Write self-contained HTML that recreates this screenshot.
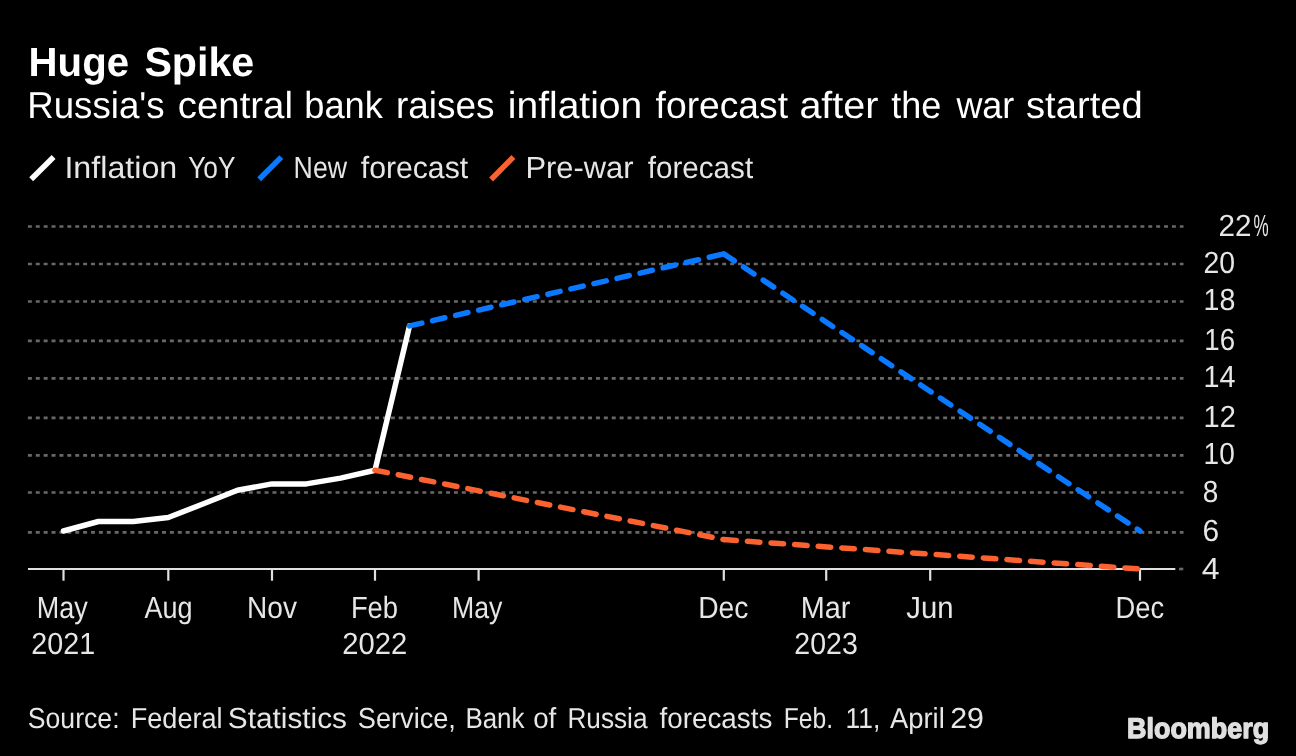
<!DOCTYPE html>
<html><head><meta charset="utf-8"><style>
html,body{margin:0;padding:0;background:#000;width:1296px;height:756px;overflow:hidden}
svg{display:block;will-change:transform}
text{font-family:"Liberation Sans",sans-serif;text-rendering:geometricPrecision}
</style></head><body>
<svg width="1296" height="756" viewBox="0 0 1296 756">
<rect width="1296" height="756" fill="#000"/>
<g fill="#fff">
<text id="title_0" x="28.60" y="76.00" font-size="40.8" textLength="100.43" lengthAdjust="spacingAndGlyphs" font-weight="bold">Huge</text><text id="title_1" x="144.40" y="76.00" font-size="40.8" textLength="109.90" lengthAdjust="spacingAndGlyphs" font-weight="bold">Spike</text>
<text id="subtitle_0" x="27.20" y="117.80" font-size="37.5" textLength="137.45" lengthAdjust="spacingAndGlyphs">Russia's</text><text id="subtitle_1" x="177.80" y="117.80" font-size="37.5" textLength="115.16" lengthAdjust="spacingAndGlyphs">central</text><text id="subtitle_2" x="304.20" y="117.80" font-size="37.5" textLength="78.73" lengthAdjust="spacingAndGlyphs">bank</text><text id="subtitle_3" x="396.00" y="117.80" font-size="37.5" textLength="98.47" lengthAdjust="spacingAndGlyphs">raises</text><text id="subtitle_4" x="507.80" y="117.80" font-size="37.5" textLength="134.47" lengthAdjust="spacingAndGlyphs">inflation</text><text id="subtitle_5" x="655.60" y="117.80" font-size="37.5" textLength="132.41" lengthAdjust="spacingAndGlyphs">forecast</text><text id="subtitle_6" x="799.40" y="117.80" font-size="37.5" textLength="79.09" lengthAdjust="spacingAndGlyphs">after</text><text id="subtitle_7" x="891.20" y="117.80" font-size="37.5" textLength="50.07" lengthAdjust="spacingAndGlyphs">the</text><text id="subtitle_8" x="956.40" y="117.80" font-size="37.5" textLength="57.92" lengthAdjust="spacingAndGlyphs">war</text><text id="subtitle_9" x="1026.00" y="117.80" font-size="37.5" textLength="116.72" lengthAdjust="spacingAndGlyphs">started</text>
</g>
<g fill="#e6e6e6">
<text id="leg1_0" x="64.40" y="177.80" font-size="30.6" textLength="112.89" lengthAdjust="spacingAndGlyphs">Inflation</text><text id="leg1_1" x="188.20" y="177.80" font-size="30.6" textLength="47.26" lengthAdjust="spacingAndGlyphs">YoY</text>
<text id="leg2_0" x="293.60" y="177.80" font-size="30.6" textLength="53.44" lengthAdjust="spacingAndGlyphs">New</text><text id="leg2_1" x="360.80" y="177.80" font-size="30.6" textLength="107.32" lengthAdjust="spacingAndGlyphs">forecast</text>
<text id="leg3_0" x="525.40" y="177.80" font-size="30.6" textLength="108.13" lengthAdjust="spacingAndGlyphs">Pre-war</text><text id="leg3_1" x="647.80" y="177.80" font-size="30.6" textLength="105.31" lengthAdjust="spacingAndGlyphs">forecast</text>
</g>
<g stroke-width="5.5">
<line x1="31.2" y1="179.2" x2="53.6" y2="157" stroke="#fff"/>
<line x1="259.2" y1="179.3" x2="281.3" y2="157.1" stroke="#0a78ff"/>
<line x1="491.1" y1="179.5" x2="513.4" y2="157" stroke="#fb6230"/>
</g>
<g stroke="#686868" stroke-width="2.6" stroke-dasharray="3.95 3.94"><line x1="27.9" y1="532.4" x2="1183.5" y2="532.4"/><line x1="27.9" y1="492.5" x2="1183.5" y2="492.5"/><line x1="27.9" y1="455.4" x2="1183.5" y2="455.4"/><line x1="27.9" y1="417.9" x2="1183.5" y2="417.9"/><line x1="27.9" y1="378.4" x2="1183.5" y2="378.4"/><line x1="27.9" y1="340.9" x2="1183.5" y2="340.9"/><line x1="27.9" y1="301.5" x2="1183.5" y2="301.5"/><line x1="27.9" y1="264" x2="1183.5" y2="264"/><line x1="27.9" y1="226.5" x2="1183.5" y2="226.5"/><line x1="1179" y1="569" x2="1183.3" y2="569" stroke-dasharray="none"/></g>
<line x1="28" y1="569" x2="1175.3" y2="569" stroke="#e0e0e0" stroke-width="2.2"/>
<g stroke="#e0e0e0" stroke-width="2.2"><line x1="63.50" y1="568" x2="63.50" y2="580.7"/><line x1="168.30" y1="568" x2="168.30" y2="580.7"/><line x1="272.00" y1="568" x2="272.00" y2="580.7"/><line x1="375.00" y1="568" x2="375.00" y2="580.7"/><line x1="478.60" y1="568" x2="478.60" y2="580.7"/><line x1="723.80" y1="568" x2="723.80" y2="580.7"/><line x1="826.20" y1="568" x2="826.20" y2="580.7"/><line x1="930.20" y1="568" x2="930.20" y2="580.7"/><line x1="1140.00" y1="568" x2="1140.00" y2="580.7"/></g>
<polyline points="63.50,531.00 98.43,521.50 133.37,521.50 168.30,517.50 202.87,504.00 237.43,490.30 272.00,483.90 306.33,483.90 340.67,478.10 375.00,470.20 409.53,325.90" fill="none" stroke="#fff" stroke-width="5.5" stroke-linejoin="round" stroke-linecap="round"/>
<g fill="none" stroke="#fb6230" stroke-width="5.5" stroke-dasharray="12.6 11.05" stroke-linecap="round"><path d="M375.00,470.20L723.80,539.60"/><path d="M723.80,539.60L1140.00,569.00"/></g>
<g fill="none" stroke="#0a78ff" stroke-width="5.5" stroke-dasharray="12.6 11.05" stroke-linecap="round"><path d="M409.53,325.90L723.80,253.90"/><path d="M723.80,253.90L1140.00,531.00"/></g>
<g fill="#e6e6e6"><text id="y4" x="1201.80" y="579.00" font-size="30.6" textLength="17.81" lengthAdjust="spacingAndGlyphs">4</text><text id="y6" x="1202.60" y="541.00" font-size="30.6" textLength="16.69" lengthAdjust="spacingAndGlyphs">6</text><text id="y8" x="1202.80" y="502.00" font-size="30.6" textLength="15.54" lengthAdjust="spacingAndGlyphs">8</text><text id="y10" x="1203.60" y="464.00" font-size="30.6" textLength="31.18" lengthAdjust="spacingAndGlyphs">10</text><text id="y12" x="1203.60" y="427.00" font-size="30.6" textLength="32.28" lengthAdjust="spacingAndGlyphs">12</text><text id="y14" x="1203.60" y="387.00" font-size="30.6" textLength="31.96" lengthAdjust="spacingAndGlyphs">14</text><text id="y16" x="1204.30" y="350.00" font-size="30.6" textLength="30.79" lengthAdjust="spacingAndGlyphs">16</text><text id="y18" x="1203.60" y="310.00" font-size="30.6" textLength="31.79" lengthAdjust="spacingAndGlyphs">18</text><text id="y20" x="1203.40" y="273.00" font-size="30.6" textLength="31.59" lengthAdjust="spacingAndGlyphs">20</text><text id="y22" x="1218.40" y="236.00" font-size="30.6" textLength="33.04" lengthAdjust="spacingAndGlyphs">22</text><text id="ypct" x="1253.40" y="236.00" font-size="30.6" textLength="15.16" lengthAdjust="spacingAndGlyphs">%</text><text id="May21" x="62.35" y="617.90" font-size="30.6" textLength="50.98" lengthAdjust="spacingAndGlyphs" text-anchor="middle">May</text><text id="y2021" x="63.20" y="653.70" font-size="30.6" textLength="63.87" lengthAdjust="spacingAndGlyphs" text-anchor="middle">2021</text><text id="Aug" x="168.53" y="617.90" font-size="30.6" textLength="48.00" lengthAdjust="spacingAndGlyphs" text-anchor="middle">Aug</text><text id="Nov" x="271.98" y="617.90" font-size="30.6" textLength="49.86" lengthAdjust="spacingAndGlyphs" text-anchor="middle">Nov</text><text id="Feb" x="374.48" y="617.90" font-size="30.6" textLength="47.12" lengthAdjust="spacingAndGlyphs" text-anchor="middle">Feb</text><text id="y2022" x="374.78" y="653.70" font-size="30.6" textLength="64.98" lengthAdjust="spacingAndGlyphs" text-anchor="middle">2022</text><text id="May22" x="477.21" y="617.90" font-size="30.6" textLength="50.42" lengthAdjust="spacingAndGlyphs" text-anchor="middle">May</text><text id="Dec22" x="723.29" y="617.90" font-size="30.6" textLength="50.19" lengthAdjust="spacingAndGlyphs" text-anchor="middle">Dec</text><text id="Mar" x="825.62" y="617.90" font-size="30.6" textLength="49.67" lengthAdjust="spacingAndGlyphs" text-anchor="middle">Mar</text><text id="y2023" x="826.07" y="653.70" font-size="30.6" textLength="63.57" lengthAdjust="spacingAndGlyphs" text-anchor="middle">2023</text><text id="Jun" x="929.90" y="617.90" font-size="30.6" textLength="47.22" lengthAdjust="spacingAndGlyphs" text-anchor="middle">Jun</text><text id="Dec23" x="1139.81" y="617.90" font-size="30.6" textLength="48.62" lengthAdjust="spacingAndGlyphs" text-anchor="middle">Dec</text>
<text id="source_0" x="27.80" y="727.90" font-size="28.9" textLength="91.74" lengthAdjust="spacingAndGlyphs">Source:</text><text id="source_1" x="130.80" y="727.90" font-size="28.9" textLength="91.74" lengthAdjust="spacingAndGlyphs">Federal</text><text id="source_2" x="227.80" y="727.90" font-size="28.9" textLength="119.18" lengthAdjust="spacingAndGlyphs">Statistics</text><text id="source_3" x="357.80" y="727.90" font-size="28.9" textLength="98.12" lengthAdjust="spacingAndGlyphs">Service,</text><text id="source_4" x="465.40" y="727.90" font-size="28.9" textLength="59.07" lengthAdjust="spacingAndGlyphs">Bank</text><text id="source_5" x="533.20" y="727.90" font-size="28.9" textLength="23.08" lengthAdjust="spacingAndGlyphs">of</text><text id="source_6" x="567.40" y="727.90" font-size="28.9" textLength="80.09" lengthAdjust="spacingAndGlyphs">Russia</text><text id="source_7" x="659.60" y="727.90" font-size="28.9" textLength="112.68" lengthAdjust="spacingAndGlyphs">forecasts</text><text id="source_8" x="783.80" y="727.90" font-size="28.9" textLength="49.26" lengthAdjust="spacingAndGlyphs">Feb.</text><text id="source_9" x="845.60" y="727.90" font-size="28.9" textLength="34.68" lengthAdjust="spacingAndGlyphs">11,</text><text id="source_10" x="890.00" y="727.90" font-size="28.9" textLength="54.72" lengthAdjust="spacingAndGlyphs">April</text><text id="source_11" x="950.20" y="727.90" font-size="28.9" textLength="33.85" lengthAdjust="spacingAndGlyphs">29</text>
</g>
<g fill="#e0e0e0" stroke="#e0e0e0" stroke-width="1.3" stroke-linejoin="round"><text id="bbg" x="1127.00" y="738.05" font-size="28.5" textLength="142.12" lengthAdjust="spacingAndGlyphs" font-weight="bold">Bloomberg</text></g>
</svg>
</body></html>
